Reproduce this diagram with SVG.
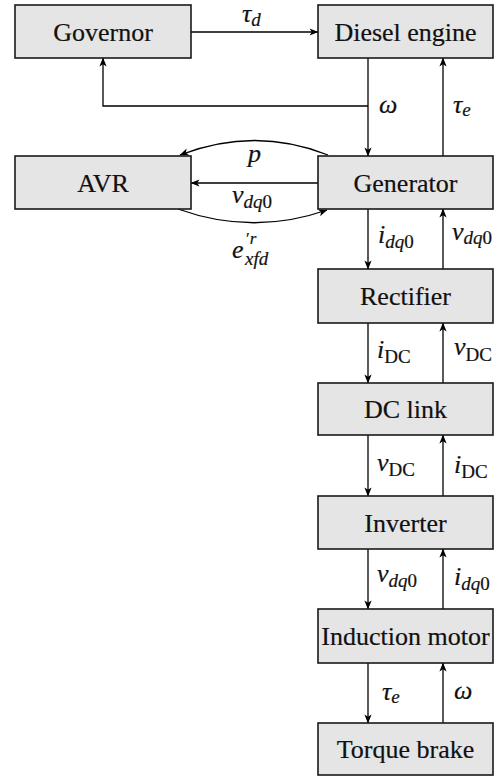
<svg xmlns="http://www.w3.org/2000/svg" width="503" height="778" viewBox="0 0 503 778">
<defs>
<marker id="ah" markerWidth="11" markerHeight="10" viewBox="-10 -5 11 10" refX="0" refY="0" orient="auto" markerUnits="userSpaceOnUse">
<path d="M0.5,0 L-8.5,-3.6 L-6.2,0 L-8.5,3.6 Z" fill="#000"/>
</marker>
<style>
text{font-family:"Liberation Serif","Times New Roman",serif;fill:#111;stroke:#111;stroke-width:0.2}
.box{fill:#e5e5e5;stroke:#1a1a1a;stroke-width:1.6}
.bt{font-size:26px;text-anchor:middle}
.ln{fill:none;stroke:#000;stroke-width:1.3}
.arr{marker-end:url(#ah)}
.m{font-size:26px;font-style:italic}
.s{font-size:19px}
.sp{font-size:17px}
.u{font-style:normal}
</style>
</defs>
<rect width="503" height="778" fill="#fff"/>
<g id="connectors">
<path class="ln arr" d="M191,32 H318"/>
<path class="ln arr" d="M368,58 V156"/>
<path class="ln arr" d="M368,106 H103 V58"/>
<path class="ln arr" d="M443,156 V58"/>
<path class="ln arr" d="M318,183 H191"/>
<path class="ln arr" d="M328,155 Q255,126 180,155"/>
<path class="ln arr" d="M178,209 Q253,236 327,210"/>
<path class="ln arr" d="M368,209 V269"/>
<path class="ln arr" d="M443,269 V209"/>
<path class="ln arr" d="M368,323 V383"/>
<path class="ln arr" d="M443,383 V323"/>
<path class="ln arr" d="M368,435 V496"/>
<path class="ln arr" d="M443,496 V435"/>
<path class="ln arr" d="M368,549 V609"/>
<path class="ln arr" d="M443,609 V549"/>
<path class="ln arr" d="M368,663 V723"/>
<path class="ln arr" d="M443,723 V663"/>
</g>
<g id="labels">
<text class="m" x="242" y="22">τ<tspan class="s" dy="4">d</tspan></text>
<text class="m" x="379" y="113">ω</text>
<text class="m" x="453" y="113">τ<tspan class="s" dy="3">e</tspan></text>
<text class="m" x="248" y="162">p</text>
<text class="m" x="232" y="203">v<tspan class="s" dy="5">dq</tspan><tspan class="s u">0</tspan></text>
<text class="m" x="232" y="258">e<tspan class="sp u" x="246" y="244">′</tspan><tspan class="sp">r</tspan><tspan class="s" x="245" y="265">xfd</tspan></text>
<text class="m" x="378" y="243">i<tspan class="s" dy="5">dq</tspan><tspan class="s u">0</tspan></text>
<text class="m" x="452" y="240">v<tspan class="s" dy="4">dq</tspan><tspan class="s u">0</tspan></text>
<text class="m" x="377" y="358">i<tspan class="s u" dy="5">DC</tspan></text>
<text class="m" x="454" y="355">v<tspan class="s u" dy="6">DC</tspan></text>
<text class="m" x="377" y="471">v<tspan class="s u" dy="5">DC</tspan></text>
<text class="m" x="454" y="473">i<tspan class="s u" dy="5">DC</tspan></text>
<text class="m" x="377" y="582">v<tspan class="s" dy="5">dq</tspan><tspan class="s u">0</tspan></text>
<text class="m" x="454" y="585">i<tspan class="s" dy="5">dq</tspan><tspan class="s u">0</tspan></text>
<text class="m" x="382" y="700">τ<tspan class="s" dy="3">e</tspan></text>
<text class="m" x="454" y="699">ω</text>
</g>
<g id="governor"><rect class="box" x="15" y="5" width="176" height="53"/><text class="bt" x="103" y="40.5">Governor</text></g>
<g id="diesel-engine"><rect class="box" x="318" y="5" width="175" height="53"/><text class="bt" x="405.5" y="40.5">Diesel engine</text></g>
<g id="avr"><rect class="box" x="15" y="156" width="176" height="53"/><text class="bt" x="103" y="191.5">AVR</text></g>
<g id="generator"><rect class="box" x="318" y="156" width="175" height="53"/><text class="bt" x="405.5" y="191.5">Generator</text></g>
<g id="rectifier"><rect class="box" x="318" y="269" width="175" height="54"/><text class="bt" x="405.5" y="305">Rectifier</text></g>
<g id="dc-link"><rect class="box" x="318" y="383" width="175" height="52"/><text class="bt" x="405.5" y="418">DC link</text></g>
<g id="inverter"><rect class="box" x="318" y="496" width="175" height="53"/><text class="bt" x="405.5" y="531.5">Inverter</text></g>
<g id="induction-motor"><rect class="box" x="318" y="609" width="175" height="54"/><text class="bt" x="405.5" y="645">Induction motor</text></g>
<g id="torque-brake"><rect class="box" x="318" y="723" width="175" height="52"/><text class="bt" x="405.5" y="758">Torque brake</text></g>
</svg>
